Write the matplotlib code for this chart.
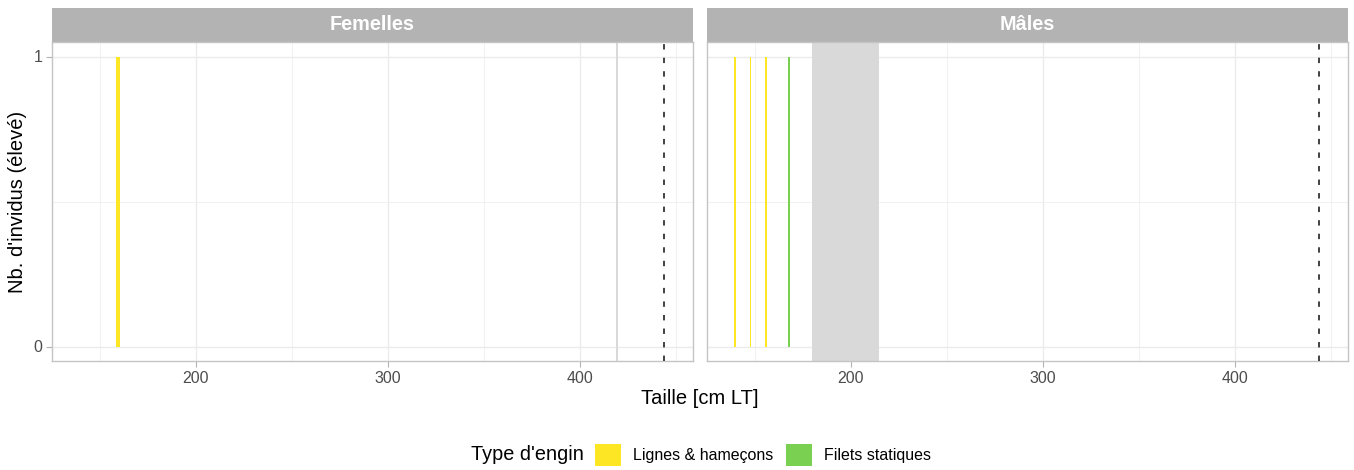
import matplotlib
matplotlib.use('Agg')
import matplotlib.pyplot as plt
from matplotlib.patches import Rectangle, Patch

plt.rcParams['font.family'] = ['Liberation Sans', 'DejaVu Sans']

# données
panels = ['Femelles', 'Mâles']
engins = ["Lignes & hameçons", "Filets statiques"]
couleurs = {"Lignes & hameçons": '#FDE725', "Filets statiques": '#7AD151'}

fem_taille = [159.7]
fem_nb = [1]
fem_engin = ["Lignes & hameçons"]

mal_taille = [139.9, 147.9, 155.9, 167.8]
mal_nb = [1, 1, 1, 1]
mal_engin = ["Lignes & hameçons", "Lignes & hameçons", "Lignes & hameçons", "Filets statiques"]

# zone grise (taille à maturité) et taille max (tirets)
maturite = {'Femelles': (418.8, 419.9), 'Mâles': (180, 215)}
taille_max = 444

donnees = {
    'Femelles': (fem_taille, fem_nb, fem_engin, 2.0),
    'Mâles': (mal_taille, mal_nb, mal_engin, 0.9),
}

W, H = 1354, 470
fig = plt.figure(figsize=(W / 100, H / 100), dpi=100)

x0s = [52, 707]
pw = 641
top, bot = 42, 361
strip_h = 34
grille = '#EBEBEB'
bord = '#C4C4C4'

for i, nom in enumerate(panels):
    ax = fig.add_axes([x0s[i] / W, 1 - bot / H, pw / W, (bot - top) / H])
    ax.set_xlim(125.2, 459)
    ax.set_ylim(-0.05, 1.05)

    taille, nb, engin, larg = donnees[nom]
    lo, hi = maturite[nom]
    ax.axvspan(lo, hi, color='#D9D9D9', lw=0, zorder=1)
    ax.bar(taille, nb, width=larg, color=[couleurs[e] for e in engin], lw=0, zorder=2)
    ax.axvline(taille_max, color='#333333', lw=1.3, dashes=(3.0, 4.5), zorder=3)

    ax.set_xticks([200, 300, 400])
    ax.set_xticks([150, 250, 350, 450], minor=True)
    ax.set_yticks([0, 1])
    ax.set_yticks([0.5], minor=True)
    ax.grid(True, which='major', color=grille, lw=1.0, zorder=0)
    ax.grid(True, which='minor', color=grille, lw=0.5, zorder=0)
    ax.set_axisbelow(True)
    ax.tick_params(which='major', color='#B3B3B3', length=4, width=0.8,
                   labelsize=11.5, labelcolor='#4D4D4D', pad=3)
    ax.tick_params(which='minor', length=0)
    if i == 1:
        ax.tick_params(axis='y', which='major', length=0, labelleft=False)
    for s in ax.spines.values():
        s.set_color(bord)
        s.set_linewidth(1.0)

    # bandeau du facet
    ax.add_patch(Rectangle((0, 1), 1, strip_h / (bot - top), transform=ax.transAxes,
                           facecolor='#B3B3B3', edgecolor='none', clip_on=False))
    ax.text(0.5, 1 + strip_h / 2 / (bot - top), nom, transform=ax.transAxes,
            ha='center', va='center', color='white', fontsize=14.3, fontweight='bold')

fig.text(700 / W, 1 - 398 / H, 'Taille [cm LT]', ha='center', va='center', fontsize=14.5)
fig.text(18 / W, 1 - 202 / H, "Nb. d'invidus (élevé)", ha='center', va='center',
         rotation=90, fontsize=14.5)

# légende
fig.text(471 / W, 1 - 455 / H, "Type d'engin", ha='left', va='center', fontsize=14.3)
poignees = [Patch(facecolor=couleurs[e], edgecolor='none') for e in engins]
fig.legend(poignees, engins, loc='center left', bbox_to_anchor=(595 / W, 1 - 455 / H),
           ncol=2, frameon=False, fontsize=11.5, handlelength=1.63, handleheight=1.7,
           handletextpad=0.75, columnspacing=0.8, borderpad=0, borderaxespad=0)

plt.savefig('out.png', dpi=100)
